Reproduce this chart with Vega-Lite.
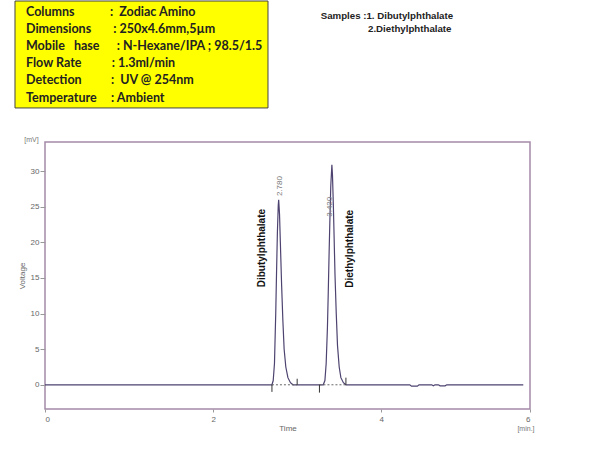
{
  "$schema": "https://vega.github.io/schema/vega-lite/v6.json",
  "width": 485,
  "height": 267,
  "autosize": {"type": "none"},
  "padding": {"left": 45, "top": 142, "right": 70, "bottom": 42},
  "background": "white",
  "config": {
    "view": {"stroke": "#a48aa8", "strokeWidth": 1.5},
    "font": "Liberation Sans"
  },
  "datasets": {
    "trace": [
      {"t": 0, "mV": 0}, {"t": 2.6, "mV": 0}, {"t": 2.7, "mV": 0},
      {"t": 2.715, "mV": 0.6}, {"t": 2.73, "mV": 3}, {"t": 2.745, "mV": 10},
      {"t": 2.755, "mV": 16}, {"t": 2.765, "mV": 21.5}, {"t": 2.775, "mV": 25.2},
      {"t": 2.78, "mV": 26}, {"t": 2.79, "mV": 24}, {"t": 2.8, "mV": 20},
      {"t": 2.815, "mV": 14}, {"t": 2.83, "mV": 9}, {"t": 2.845, "mV": 5},
      {"t": 2.865, "mV": 2.5}, {"t": 2.89, "mV": 1}, {"t": 2.92, "mV": 0.3},
      {"t": 2.95, "mV": 0}, {"t": 3.31, "mV": 0}, {"t": 3.33, "mV": 0.6},
      {"t": 3.345, "mV": 3}, {"t": 3.36, "mV": 8}, {"t": 3.37, "mV": 13},
      {"t": 3.38, "mV": 18.5}, {"t": 3.39, "mV": 23.5}, {"t": 3.4, "mV": 28},
      {"t": 3.413, "mV": 30.9}, {"t": 3.42, "mV": 29.5}, {"t": 3.43, "mV": 25.5},
      {"t": 3.44, "mV": 20.5}, {"t": 3.45, "mV": 15.5}, {"t": 3.465, "mV": 10},
      {"t": 3.48, "mV": 5.5}, {"t": 3.5, "mV": 2.5}, {"t": 3.52, "mV": 1},
      {"t": 3.55, "mV": 0.3}, {"t": 3.58, "mV": 0}, {"t": 4.34, "mV": 0},
      {"t": 4.36, "mV": -0.2}, {"t": 4.43, "mV": -0.2}, {"t": 4.45, "mV": 0},
      {"t": 4.6, "mV": 0}, {"t": 4.62, "mV": -0.15}, {"t": 4.64, "mV": 0},
      {"t": 4.68, "mV": 0}, {"t": 4.7, "mV": -0.15}, {"t": 4.76, "mV": -0.15},
      {"t": 4.78, "mV": 0}, {"t": 5.69, "mV": 0}
    ],
    "peak_ticks": [
      {"t": 2.7, "mV": 0, "mV2": -1.0},
      {"t": 3.0, "mV": 0, "mV2": 0.85},
      {"t": 3.265, "mV": 0, "mV2": -1.1},
      {"t": 3.58, "mV": 0, "mV2": 1.0}
    ],
    "integration": [
      {"t": 2.7, "t2": 3.0, "mV": 0},
      {"t": 3.265, "t2": 3.58, "mV": 0}
    ],
    "retention": [
      {"t": 2.796, "mV": 26.5, "label": "2.780"},
      {"t": 3.39, "mV": 23.6, "label": "3.420"}
    ],
    "compounds": [
      {"t": 2.581, "mV": 19.2, "label": "Dibutylphthalate"},
      {"t": 3.628, "mV": 19.1, "label": "Diethylphthalate"}
    ],
    "units": [
      {"t": -0.161, "mV": 34.38, "label": "[mV]"},
      {"t": 5.722, "mV": -6.21, "label": "[min.]"}
    ],
    "box": [
      {"t": -0.357, "t2": 2.653, "mV": 53.9, "mV2": 38.88}
    ],
    "conditions": [
      {"t": -0.226, "mV": 52.4, "label": "Columns"},
      {"t": 0.773, "mV": 52.4, "label": ":\u00a0\u00a0Zodiac Amino"},
      {"t": -0.226, "mV": 49.97, "label": "Dimensions"},
      {"t": 0.8125, "mV": 49.97, "label": ": 250x4.6mm,5µm"},
      {"t": -0.226, "mV": 47.63, "label": "Mobile\u00a0\u00a0\u00a0hase"},
      {"t": 0.853, "mV": 47.63, "label": ": N-Hexane/IPA ; 98.5/1.5"},
      {"t": -0.226, "mV": 45.15, "label": "Flow Rate"},
      {"t": 0.793, "mV": 45.15, "label": ": 1.3ml/min"},
      {"t": -0.226, "mV": 42.81, "label": "Detection"},
      {"t": 0.785, "mV": 42.81, "label": ":\u00a0\u00a0UV @ 254nm"},
      {"t": -0.226, "mV": 40.32, "label": "Temperature"},
      {"t": 0.785, "mV": 40.32, "label": ": Ambient"}
    ],
    "samples": [
      {"t": 3.28, "mV": 51.84, "label": "Samples :1. Dibutylphthalate"},
      {"t": 3.843, "mV": 49.93, "label": "2.Diethylphthalate"}
    ]
  },
  "encoding": {
    "x": {
      "field": "t",
      "type": "quantitative",
      "scale": {"domain": [0, 5.77], "nice": false, "zero": false},
      "axis": {
        "title": "Time",
        "values": [0, 2, 4, 5.77],
        "labelExpr": "datum.value > 5 ? '6' : datum.label",
        "grid": false,
        "domain": false,
        "tickColor": "#999999",
        "tickSize": 3,
        "labelFontSize": 8,
        "labelColor": "#666666",
        "labelPadding": 3,
        "titleFontSize": 8,
        "titleFontWeight": "normal",
        "titleColor": "#666666",
        "titlePadding": 1
      }
    },
    "y": {
      "field": "mV",
      "type": "quantitative",
      "scale": {"domain": [-3.4, 34.1], "nice": false, "zero": false},
      "axis": {
        "title": "Voltage",
        "values": [0, 5, 10, 15, 20, 25, 30],
        "grid": false,
        "domain": false,
        "tickColor": "#999999",
        "tickSize": 5,
        "labelFontSize": 8,
        "labelColor": "#666666",
        "labelPadding": 1,
        "titleFontSize": 8,
        "titleFontWeight": "normal",
        "titleColor": "#666666",
        "titlePadding": 4
      }
    }
  },
  "layer": [
    {
      "data": {"name": "trace"},
      "mark": {"type": "line", "color": "#4e4370", "strokeWidth": 1.2}
    },
    {
      "data": {"name": "integration"},
      "mark": {"type": "rule", "color": "#666666", "strokeDash": [2, 2], "strokeWidth": 1},
      "encoding": {"x2": {"field": "t2"}}
    },
    {
      "data": {"name": "peak_ticks"},
      "mark": {"type": "rule", "color": "#333333", "strokeWidth": 1},
      "encoding": {"y2": {"field": "mV2"}}
    },
    {
      "data": {"name": "retention"},
      "mark": {"type": "text", "angle": 270, "align": "left", "baseline": "middle", "fontSize": 8, "color": "#777777"},
      "encoding": {"text": {"field": "label"}}
    },
    {
      "data": {"name": "compounds"},
      "mark": {"type": "text", "angle": 270, "align": "center", "baseline": "middle", "fontSize": 10, "fontWeight": "bold", "color": "#111111"},
      "encoding": {"text": {"field": "label"}}
    },
    {
      "data": {"name": "units"},
      "mark": {"type": "text", "align": "center", "baseline": "middle", "fontSize": 7, "color": "#777777"},
      "encoding": {"text": {"field": "label"}}
    },
    {
      "data": {"name": "box"},
      "mark": {"type": "rect", "fill": "#ffff00", "stroke": "#444444", "strokeWidth": 1},
      "encoding": {"x2": {"field": "t2"}, "y2": {"field": "mV2"}}
    },
    {
      "data": {"name": "conditions"},
      "mark": {"type": "text", "align": "left", "baseline": "middle", "font": "Lato", "fontSize": 12.5, "fontWeight": "bold", "color": "#222222"},
      "encoding": {"text": {"field": "label"}}
    },
    {
      "data": {"name": "samples"},
      "mark": {"type": "text", "align": "left", "baseline": "middle", "fontSize": 9.7, "fontWeight": "bold", "color": "#222222"},
      "encoding": {"text": {"field": "label"}}
    }
  ]
}
